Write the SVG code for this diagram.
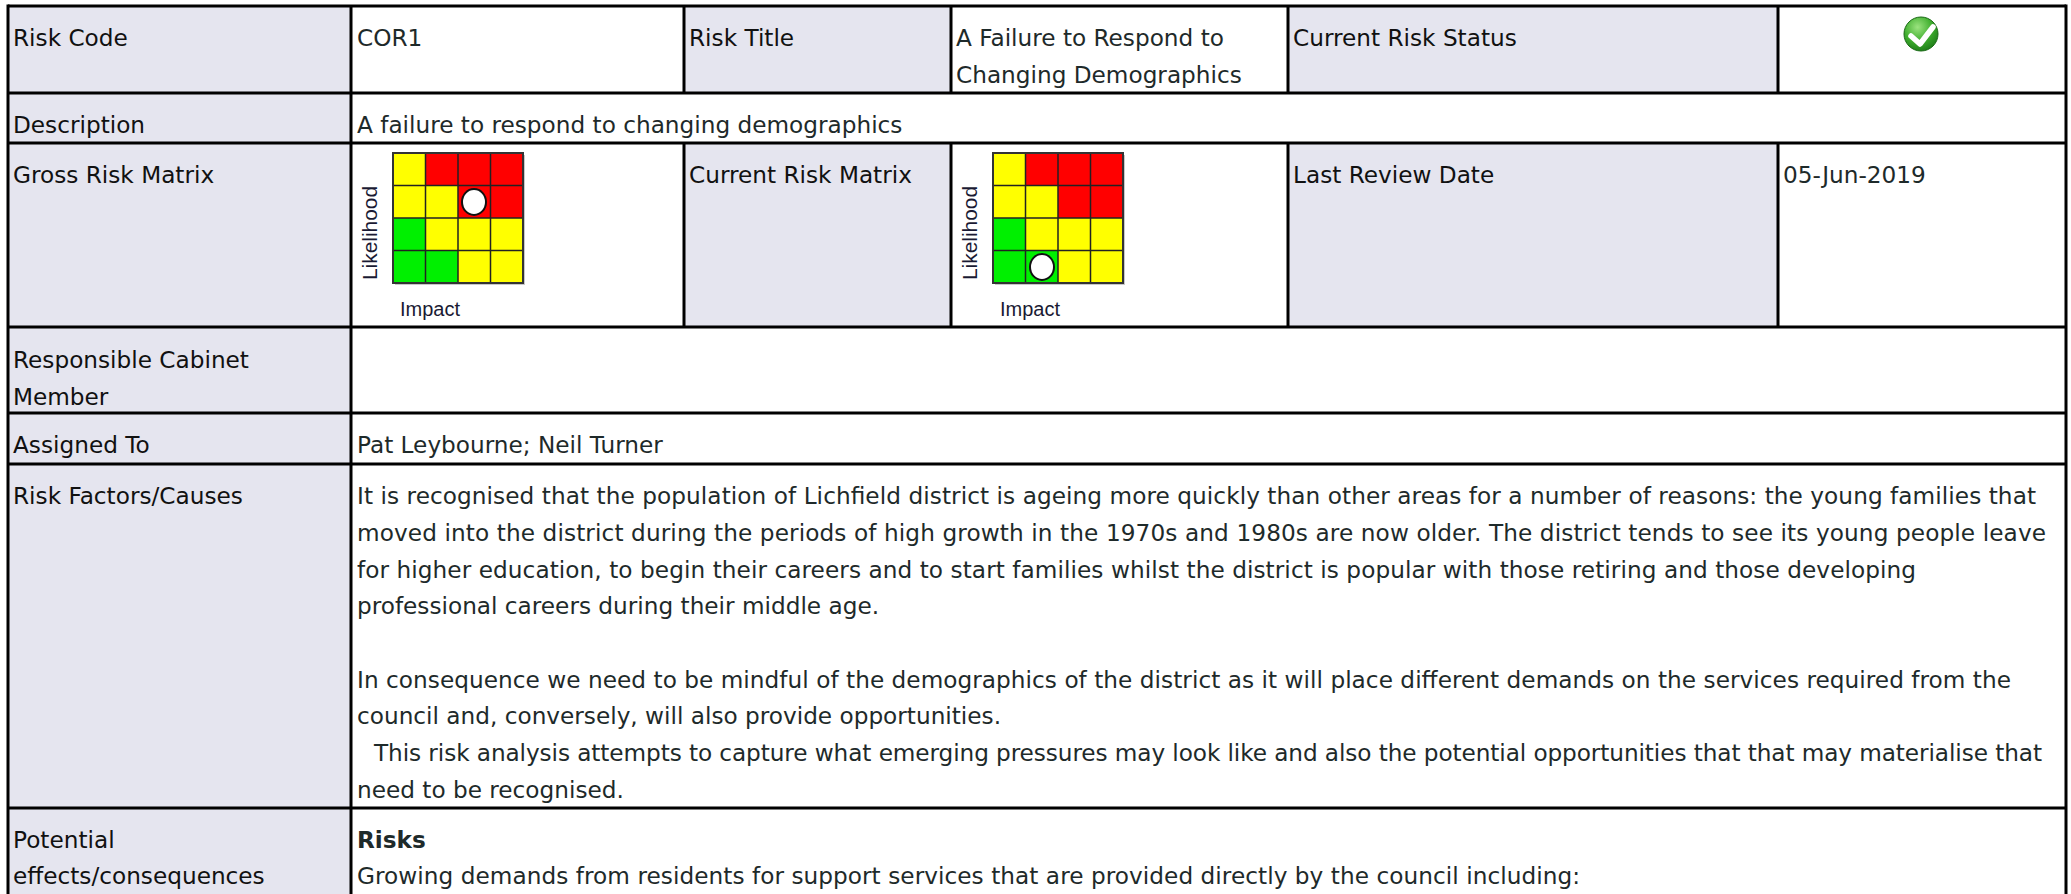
<svg xmlns="http://www.w3.org/2000/svg" width="2071" height="894" viewBox="0 0 2071 894">
<defs>
<style>
.lbl{font-family:"DejaVu Sans",Verdana,sans-serif;font-size:23.2px;fill:#111}
.val{font-family:"DejaVu Sans",Verdana,sans-serif;font-size:23.2px;fill:#1e2a2a}
.b{font-weight:bold}
.ax{font-family:"Liberation Sans",Arial,sans-serif;font-size:20px;fill:#1a1a33}
.hdr{fill:#E5E5EF}
.grid{stroke:#000;stroke-width:3;fill:none}
.y{fill:#FFFF00}.r{fill:#FF0000}.g{fill:#00F000}
.mline{stroke:#222;stroke-width:1.5;fill:none}
.dot{fill:#fff;stroke:#111;stroke-width:2}
</style>
<radialGradient id="gok" cx="0.4" cy="0.3" r="0.75">
<stop offset="0" stop-color="#9be37f"/>
<stop offset="0.55" stop-color="#3fae2e"/>
<stop offset="1" stop-color="#1b7a17"/>
</radialGradient>
<g id="matrix">
<rect x="2" y="2" width="130" height="130" fill="#c8c8c8"/>
<rect x="0" y="0" width="32.5" height="32.5" class="y"/>
<rect x="32.5" y="0" width="97.5" height="32.5" class="r"/>
<rect x="0" y="32.5" width="65" height="32.5" class="y"/>
<rect x="65" y="32.5" width="65" height="32.5" class="r"/>
<rect x="0" y="65" width="32.5" height="65" class="g"/>
<rect x="32.5" y="65" width="97.5" height="32.5" class="y"/>
<rect x="32.5" y="97.5" width="32.5" height="32.5" class="g"/>
<rect x="65" y="97.5" width="65" height="32.5" class="y"/>
<path class="mline" d="M32.5 0V130M65 0V130M97.5 0V130M0 32.5H130M0 65H130M0 97.5H130"/>
<rect x="0" y="0" width="130" height="130" fill="none" stroke="#333" stroke-width="2"/>
</g>
</defs>
<rect x="0" y="0" width="2071" height="894" fill="#fff"/>

<g id="fills">
<rect class="hdr" x="8" y="6" width="343" height="888"/>
<rect class="hdr" x="684" y="6" width="267" height="87"/>
<rect class="hdr" x="1288" y="6" width="490" height="87"/>
<rect class="hdr" x="684" y="143" width="267" height="184"/>
<rect class="hdr" x="1288" y="143" width="490" height="184"/>
</g>

<g id="row-risk-code">
<text class="lbl" x="13" y="46">Risk Code</text>
<text class="val" x="357" y="46">COR1</text>
<text class="lbl" x="689" y="46">Risk Title</text>
<text class="val" x="956" y="46">A Failure to Respond to</text>
<text class="val" x="956" y="83">Changing Demographics</text>
<text class="lbl" x="1293" y="46">Current Risk Status</text>
<g id="status-icon">
<circle cx="1921" cy="34" r="17" fill="url(#gok)" stroke="#1a6a16" stroke-width="1"/>
<path d="M1911 36 L1920 44 L1933 27" fill="none" stroke="#fff" stroke-width="5.5" stroke-linecap="round" stroke-linejoin="round"/>
</g>
</g>

<g id="row-description">
<text class="lbl" x="13" y="133">Description</text>
<text class="val" x="357" y="133">A failure to respond to changing demographics</text>
</g>

<g id="row-matrix">
<text class="lbl" x="13" y="183">Gross Risk Matrix</text>
<g id="gross-matrix">
<use href="#matrix" x="393" y="153"/>
<ellipse class="dot" cx="474" cy="202" rx="12" ry="13"/>
<text class="ax" transform="translate(377,280) rotate(-90)" textLength="94" lengthAdjust="spacingAndGlyphs">Likelihood</text>
<text class="ax" x="400" y="316">Impact</text>
</g>
<text class="lbl" x="689" y="183">Current Risk Matrix</text>
<g id="current-matrix">
<use href="#matrix" x="993" y="153"/>
<ellipse class="dot" cx="1042" cy="267" rx="12" ry="13"/>
<text class="ax" transform="translate(977,280) rotate(-90)" textLength="94" lengthAdjust="spacingAndGlyphs">Likelihood</text>
<text class="ax" x="1000" y="316">Impact</text>
</g>
<text class="lbl" x="1293" y="183">Last Review Date</text>
<text class="val" x="1783" y="183">05-Jun-2019</text>
</g>

<g id="row-cabinet">
<text class="lbl" x="13" y="368">Responsible Cabinet</text>
<text class="lbl" x="13" y="405">Member</text>
</g>

<g id="row-assigned">
<text class="lbl" x="13" y="453">Assigned To</text>
<text class="val" x="357" y="453">Pat Leybourne; Neil Turner</text>
</g>

<g id="row-factors">
<text class="lbl" x="13" y="504">Risk Factors/Causes</text>
<text class="val" x="357" y="504" textLength="1679" lengthAdjust="spacing">It is recognised that the population of Lichfield district is ageing more quickly than other areas for a number of reasons: the young families that</text>
<text class="val" x="357" y="541" textLength="1689" lengthAdjust="spacing">moved into the district during the periods of high growth in the 1970s and 1980s are now older. The district tends to see its young people leave</text>
<text class="val" x="357" y="577.5" textLength="1559" lengthAdjust="spacing">for higher education, to begin their careers and to start families whilst the district is popular with those retiring and those developing</text>
<text class="val" x="357" y="614">professional careers during their middle age.</text>
<text class="val" x="357" y="687.5" textLength="1654" lengthAdjust="spacing">In consequence we need to be mindful of the demographics of the district as it will place different demands on the services required from the</text>
<text class="val" x="357" y="724">council and, conversely, will also provide opportunities.</text>
<text class="val" x="374" y="761" textLength="1668" lengthAdjust="spacing">This risk analysis attempts to capture what emerging pressures may look like and also the potential opportunities that that may materialise that</text>
<text class="val" x="357" y="797.5">need to be recognised.</text>
</g>

<g id="row-effects">
<text class="lbl" x="13" y="848">Potential</text>
<text class="lbl" x="13" y="884">effects/consequences</text>
<text class="val b" x="357" y="848">Risks</text>
<text class="val" x="357" y="884" textLength="1223" lengthAdjust="spacing">Growing demands from residents for support services that are provided directly by the council including:</text>
</g>

<g id="connectors">
<path class="grid" d="M8 6H2066M8 93H2066M8 143H2066M8 327H2066M8 413H2066M8 464H2066M8 808H2066"/>
<path class="grid" d="M8 4.5V894M351 6V894M2066 4.5V894"/>
<path class="grid" d="M684 6V93M951 6V93M1288 6V93M1778 6V93"/>
<path class="grid" d="M684 143V327M951 143V327M1288 143V327M1778 143V327"/>
</g>
</svg>
